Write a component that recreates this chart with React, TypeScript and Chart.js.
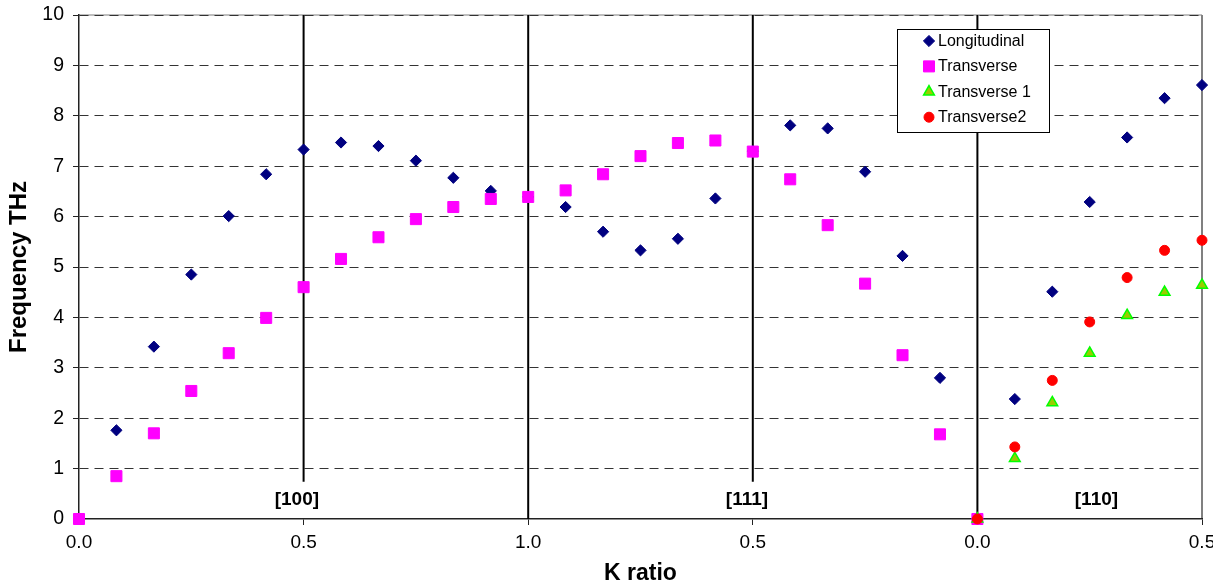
import { useEffect, useRef } from 'react';
import { Chart, registerables } from 'chart.js';

Chart.register(...registerables);

const FONT = "'Liberation Sans', Arial, Helvetica, sans-serif";

// Position along the dispersion path: [100] 0→1, [111] back 1→0, [110] 0→0.5
const kPath = [
  0, 0.0833, 0.1667, 0.25, 0.3333, 0.4167, 0.5, 0.5833, 0.6667, 0.75, 0.8333, 0.9167,
  1.0, 1.0833, 1.1667, 1.25, 1.3333, 1.4167, 1.5, 1.5833, 1.6667, 1.75, 1.8333, 1.9167,
  2.0, 2.0833, 2.1667, 2.25, 2.3333, 2.4167, 2.5,
];
const xTickLabels = ['0.0', '0.5', '1.0', '0.5', '0.0', '0.5'];

// Frequencies in THz
const longitudinal = [
  0, 1.76, 3.42, 4.85, 6.01, 6.84, 7.33, 7.47, 7.4, 7.11, 6.77, 6.51,
  6.39, 6.19, 5.7, 5.33, 5.56, 6.36, 7.3, 7.81, 7.75, 6.89, 5.22, 2.8,
  0, 2.38, 4.51, 6.29, 7.57, 8.35, 8.61,
];
const transverse = [
  0, 0.85, 1.7, 2.54, 3.29, 3.99, 4.6, 5.16, 5.59, 5.95, 6.19, 6.35,
  6.39, 6.52, 6.84, 7.2, 7.46, 7.51, 7.29, 6.74, 5.83, 4.67, 3.25, 1.68, 0,
];
const transverse1 = [0, 1.2, 2.31, 3.29, 4.04, 4.5, 4.64];
const transverse2 = [0, 1.43, 2.75, 3.91, 4.79, 5.33, 5.53];

// Symmetry-point dividers and direction names
const dividerX = [0.5, 1.0, 1.5, 2.0];
const dividerFrom = [0.74, 0, 0.74, 0];
const dividerTo = [10, 10, 10, 10];
const directionNames = ['[100]', '[111]', '[110]'];
const directionX = [0.485, 1.487, 2.265];
const directionY = 0.38;

const pts = (xs: number[], ys: number[]) => ys.map((y, i) => ({ x: xs[i], y }));

function drawMarker(
  ctx: CanvasRenderingContext2D,
  style: string,
  x: number,
  y: number,
  r: number,
  fill: string,
  stroke: string,
  lw: number,
) {
  ctx.beginPath();
  if (style === 'rectRot') {
    ctx.moveTo(x, y - r);
    ctx.lineTo(x + r, y);
    ctx.lineTo(x, y + r);
    ctx.lineTo(x - r, y);
    ctx.closePath();
  } else if (style === 'rect') {
    const s = r * Math.SQRT1_2;
    ctx.rect(x - s, y - s, 2 * s, 2 * s);
  } else if (style === 'triangle') {
    ctx.moveTo(x, y - r);
    ctx.lineTo(x + 0.866 * r, y + 0.5 * r);
    ctx.lineTo(x - 0.866 * r, y + 0.5 * r);
    ctx.closePath();
  } else {
    ctx.arc(x, y, r, 0, Math.PI * 2);
  }
  ctx.fillStyle = fill;
  ctx.fill();
  ctx.lineWidth = lw;
  ctx.strokeStyle = stroke;
  ctx.stroke();
}

// Gray plot-area frame on the top and right edges
const frameLines = {
  id: 'frameLines',
  beforeDraw(chart: any) {
    const { ctx, chartArea: a } = chart;
    ctx.save();
    ctx.strokeStyle = '#a8a8a8';
    ctx.lineWidth = 1.5;
    ctx.beginPath();
    ctx.moveTo(a.left, a.top);
    ctx.lineTo(a.right, a.top);
    ctx.stroke();
    ctx.strokeStyle = '#808080';
    ctx.lineWidth = 2;
    ctx.beginPath();
    ctx.moveTo(a.right, a.top);
    ctx.lineTo(a.right, a.bottom);
    ctx.stroke();
    ctx.restore();
  },
};

// Direction names written under the dividers
const directionLabels = {
  id: 'directionLabels',
  afterDatasetsDraw(chart: any) {
    const { ctx, scales } = chart;
    ctx.save();
    ctx.font = `bold 19px ${FONT}`;
    ctx.fillStyle = '#000';
    ctx.textAlign = 'center';
    ctx.textBaseline = 'middle';
    directionNames.forEach((name, i) => {
      ctx.fillText(name, scales.x.getPixelForValue(directionX[i]), scales.y.getPixelForValue(directionY));
    });
    ctx.restore();
  },
};

// Boxed series key in the upper right of the plot
const seriesKey = {
  id: 'seriesKey',
  afterDraw(chart: any) {
    const { ctx } = chart;
    const box = { left: 897.5, top: 29.5, width: 152, height: 103 };
    const rowStart = 11.5;
    const rowGap = 25.4;
    ctx.save();
    ctx.fillStyle = '#fff';
    ctx.fillRect(box.left, box.top, box.width, box.height);
    ctx.strokeStyle = '#000';
    ctx.lineWidth = 1;
    ctx.strokeRect(box.left, box.top, box.width, box.height);
    const items = chart.data.datasets.filter((d: any) => !d.isDivider);
    items.forEach((d: any, i: number) => {
      const y = box.top + rowStart + i * rowGap;
      drawMarker(ctx, d.pointStyle, box.left + 31.5, y, d.pointRadius, d.pointBackgroundColor, d.pointBorderColor, d.pointBorderWidth);
      ctx.font = `16px ${FONT}`;
      ctx.fillStyle = '#000';
      ctx.textAlign = 'left';
      ctx.textBaseline = 'middle';
      ctx.fillText(d.label, box.left + 40.5, y + 0.5);
    });
    ctx.restore();
  },
};

export default function App() {
  const ref = useRef<HTMLCanvasElement>(null);

  useEffect(() => {
    const canvas = ref.current;
    if (!canvas) return;

    const series: any[] = [
      {
        label: 'Longitudinal',
        data: pts(kPath, longitudinal),
        pointStyle: 'rectRot',
        pointRadius: 5.6,
        pointBackgroundColor: '#000080',
        pointBorderColor: '#000080',
        pointBorderWidth: 1,
        order: 4,
      },
      {
        label: 'Transverse',
        data: pts(kPath.slice(0, transverse.length), transverse),
        pointStyle: 'rect',
        pointRadius: 7.8,
        pointBackgroundColor: '#ff00ff',
        pointBorderColor: '#ff00ff',
        pointBorderWidth: 1,
        order: 3,
      },
      {
        label: 'Transverse 1',
        data: pts(kPath.slice(24), transverse1),
        pointStyle: 'triangle',
        pointRadius: 6.2,
        pointBackgroundColor: '#99cc00',
        pointBorderColor: '#00ff00',
        pointBorderWidth: 1.5,
        order: 2,
      },
      {
        label: 'Transverse2',
        data: pts(kPath.slice(24), transverse2),
        pointStyle: 'circle',
        pointRadius: 5,
        pointBackgroundColor: '#ff0000',
        pointBorderColor: '#ff0000',
        pointBorderWidth: 1,
        order: 1,
      },
    ].map((d) => ({ ...d, showLine: false, clip: false, pointHoverRadius: d.pointRadius }));

    const dividers = dividerX.map((x, i) => ({
      label: '',
      isDivider: true,
      data: [
        { x, y: dividerFrom[i] },
        { x, y: dividerTo[i] },
      ],
      showLine: true,
      borderColor: '#000',
      borderWidth: 2,
      pointRadius: 0,
      pointHoverRadius: 0,
      order: 10,
    }));

    const chart = new Chart(canvas, {
      type: 'scatter',
      data: { datasets: [...series, ...dividers] as any },
      options: {
        responsive: false,
        animation: false,
        events: [],
        layout: { padding: { left: 0, top: 15, right: 11, bottom: 0 } },
        plugins: { legend: { display: false }, tooltip: { enabled: false } },
        scales: {
          x: {
            type: 'linear',
            min: 0,
            max: 2.5,
            afterFit: (s: any) => {
              s.height = 68;
              s.paddingLeft = 0;
              s.paddingRight = 0;
            },
            ticks: {
              stepSize: 0.5,
              autoSkip: false,
              maxRotation: 0,
              padding: 6,
              color: '#000',
              font: { size: 19, family: FONT },
              callback: (v: any) => xTickLabels[Math.round(Number(v) / 0.5)],
            },
            grid: { drawOnChartArea: false, drawTicks: true, tickLength: 6, tickColor: '#222', tickWidth: 1 },
            border: { display: true, color: '#222', width: 1.5 },
            title: {
              display: true,
              text: 'K ratio',
              color: '#000',
              font: { size: 23, weight: 'bold', family: FONT },
              padding: { top: 1, bottom: 0 },
            },
          },
          y: {
            type: 'linear',
            min: 0,
            max: 10,
            afterFit: (s: any) => {
              s.width = 79;
              s.paddingTop = 0;
              s.paddingBottom = 0;
            },
            ticks: {
              stepSize: 1,
              padding: 9,
              color: '#000',
              font: { size: 19.5, family: FONT },
            },
            grid: {
              color: (c: any) => (c.tick && c.tick.value === 0 ? 'rgba(0,0,0,0)' : '#333'),
              lineWidth: 1,
              drawTicks: true,
              tickLength: 6,
              tickColor: '#222',
              tickWidth: 1,
              tickBorderDash: [],
            },
            border: { display: true, color: '#222', width: 1.5, dash: [9, 6] },
            title: {
              display: true,
              text: 'Frequency THz',
              color: '#000',
              font: { size: 24, weight: 'bold', family: FONT },
              padding: { top: 5, bottom: 0 },
            },
          },
        },
      } as any,
      plugins: [frameLines, directionLabels, seriesKey],
    });

    return () => chart.destroy();
  }, []);

  return (
    <canvas
      ref={ref}
      width={1213}
      height={587}
      style={{ position: 'absolute', left: 0, top: 0, width: 1213, height: 587 }}
    />
  );
}
